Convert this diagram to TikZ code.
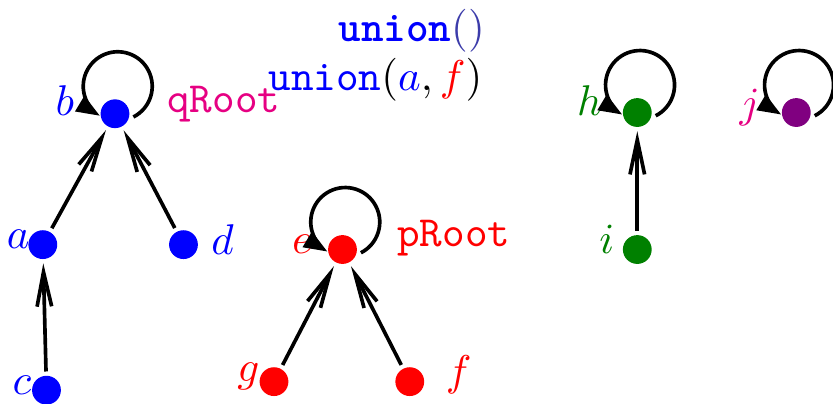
\documentclass[tikz,border=0pt]{standalone}
\usepackage{xcolor}
\usepackage{tikz}
\usetikzlibrary{arrows.meta, calc}
\definecolor{setblue}{RGB}{0,0,255}
\definecolor{setred}{RGB}{255,0,0}
\definecolor{setgreen}{RGB}{0,128,0}
\definecolor{setpurple}{RGB}{128,0,128}
\definecolor{rootpink}{RGB}{230,0,130}
\definecolor{parenblue}{RGB}{60,60,170}

\begin{document}
\begin{tikzpicture}[
  elem/.style={circle, fill=#1, inner sep=0pt, minimum size=6.7pt, outer sep=1pt},
  elemlbl/.style={inner sep=0pt, text=#1},
  rootlbl/.style={inner sep=0pt, font=\ttfamily, text=#1},
  parent/.style={-{Straight Barb[length=8pt, width=3.4pt]}, line width=0.85pt},
  selfloop/.style={-{Triangle[length=5.5pt, width=4pt]}, line width=0.85pt}
]
\useasboundingbox (0,0) rectangle (6.81,-3.30);

% the call
\node[anchor=base east, inner sep=0pt] (call1) at (3.97,-0.34)
  {\textcolor{setblue}{\texttt{\bfseries union}}\textcolor{parenblue}{()}};
\node[anchor=base east, inner sep=0pt] (call2) at (3.95,-0.74)
  {\textcolor{setblue}{\texttt{union}}$(\textcolor{setblue}{a}, \textcolor{setred}{f})$};

% tree of b
\node[elem=setblue] (b) at (0.94,-0.93) {};
\node[elem=setblue] (a) at (0.35,-2.00) {};
\node[elem=setblue] (d) at (1.50,-2.00) {};
\node[elem=setblue] (c) at (0.38,-3.19) {};
\node[elemlbl=setblue] (lb) at (0.53,-0.82) {$b$};
\node[elemlbl=setblue] (la) at (0.15,-1.96) {$a$};
\node[elemlbl=setblue] (ld) at (1.82,-1.96) {$d$};
\node[elemlbl=setblue] (lc) at (0.18,-3.15) {$c$};
\node[rootlbl=rootpink] (qroot) at (1.83,-0.85) {qRoot};

% tree of e
\node[elem=setred] (e) at (2.80,-2.04) {};
\node[elem=setred] (g) at (2.24,-3.12) {};
\node[elem=setred] (f) at (3.35,-3.12) {};
\node[elemlbl=setred] (le) at (2.47,-2.00) {$e$};
\node[elemlbl=setred] (lg) at (2.03,-3.08) {$g$};
\node[elemlbl=setred] (lf) at (3.75,-3.06) {$f$};
\node[rootlbl=setred] (proot) at (3.71,-1.95) {pRoot};

% trees of h and j
\node[elem=setgreen] (h) at (5.21,-0.92) {};
\node[elem=setgreen] (i) at (5.21,-2.04) {};
\node[elem=setpurple] (j) at (6.51,-0.92) {};
\node[elemlbl=setgreen] (lh) at (4.82,-0.82) {$h$};
\node[elemlbl=setgreen] (li) at (4.96,-1.96) {$i$};
\node[elemlbl=rootpink] (lj) at (6.13,-0.88) {$j$};

\draw[parent] (a) -- (b);
\draw[parent] (d) -- (b);
\draw[parent] (c) -- (a);
\draw[parent] (g) -- (e);
\draw[parent] (f) -- (e);
\draw[parent] (i) -- (h);

\draw[selfloop] (b.-10) arc[start angle=-63, end angle=239, radius=0.282];
\draw[selfloop] (e.-10) arc[start angle=-63, end angle=239, radius=0.282];
\draw[selfloop] (h.-10) arc[start angle=-63, end angle=239, radius=0.282];
\draw[selfloop] (j.-10) arc[start angle=-63, end angle=239, radius=0.282];

\end{tikzpicture}
\end{document}
